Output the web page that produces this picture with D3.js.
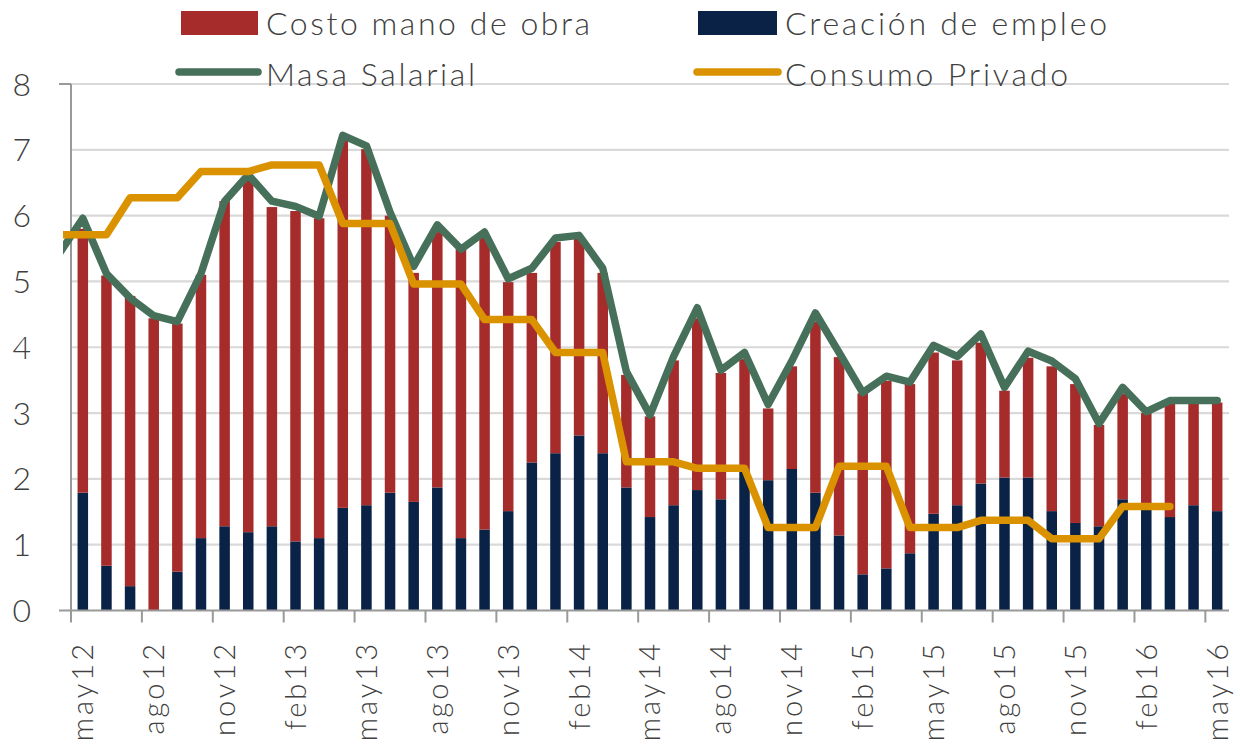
<!DOCTYPE html>
<html>
<head>
<meta charset="utf-8">
<script src="https://cdn.jsdelivr.net/npm/d3@7/dist/d3.min.js"></script>
<style>
  html, body { margin: 0; padding: 0; background: #ffffff; }
  svg { display: block; }
  text { font-family: Lato, "Open Sans", "Liberation Sans", sans-serif; font-weight: 300; fill: #404040; }
</style>
</head>
<body>
<svg id="chart" width="1240" height="746"></svg>
<script>
// ---- data (abr12 is only used for the line segments entering from the left edge) ----
const months = ["abr12",
  "may12","jun12","jul12","ago12","sep12","oct12","nov12","dic12",
  "ene13","feb13","mar13","abr13","may13","jun13","jul13","ago13","sep13","oct13","nov13","dic13",
  "ene14","feb14","mar14","abr14","may14","jun14","jul14","ago14","sep14","oct14","nov14","dic14",
  "ene15","feb15","mar15","abr15","may15","jun15","jul15","ago15","sep15","oct15","nov15","dic15",
  "ene16","feb16","mar16","abr16","may16"];

const tickLabels = ["may12","ago12","nov12","feb13","may13","ago13","nov13","feb14","may14",
  "ago14","nov14","feb15","may15","ago15","nov15","feb16","may16"];

const yTicks = [0,1,2,3,4,5,6,7,8];

const creacionEmpleo = [null,
  1.79,0.68,0.37,0.00,0.59,1.10,1.28,1.19,
  1.28,1.05,1.10,1.56,1.60,1.79,1.65,1.87,1.10,1.23,1.51,2.25,
  2.39,2.66,2.39,1.87,1.42,1.60,1.83,1.69,2.13,1.98,2.15,1.79,
  1.14,0.55,0.64,0.87,1.47,1.60,1.93,2.02,2.02,1.51,1.33,1.28,
  1.69,1.60,1.42,1.60,1.51];

const costoManoObra = [null,
  4.01,4.41,4.41,4.44,3.77,4.00,4.94,5.37,
  4.85,5.02,4.86,5.58,5.41,4.21,3.48,3.88,4.39,4.44,3.48,2.88,
  3.21,2.99,2.74,1.71,1.53,2.20,2.61,1.92,1.69,1.09,1.56,2.60,
  2.71,2.75,2.85,2.57,2.45,2.20,2.14,1.32,1.82,2.20,2.11,1.54,
  1.60,1.40,1.74,1.56,1.65];

const masaSalarial = [5.42,
  5.96,5.12,4.75,4.48,4.39,5.12,6.22,6.62,
  6.22,6.14,5.99,7.22,7.06,6.05,5.23,5.86,5.49,5.75,5.04,5.20,
  5.66,5.70,5.20,3.63,2.97,3.86,4.60,3.65,3.92,3.13,3.79,4.52,
  3.92,3.31,3.56,3.47,4.03,3.86,4.20,3.39,3.94,3.79,3.52,2.84,
  3.39,3.02,3.19,3.19,3.19];

const consumoPrivado = [5.71,
  5.71,5.71,6.27,6.27,6.27,6.67,6.67,6.67,
  6.77,6.77,6.77,5.88,5.88,5.88,4.96,4.96,4.96,4.42,4.42,4.42,
  3.92,3.92,3.92,2.26,2.26,2.26,2.16,2.16,2.16,1.26,1.26,1.26,
  2.19,2.19,2.19,1.26,1.26,1.26,1.37,1.37,1.37,1.09,1.09,1.09,
  1.58,1.58,1.58,null,null];

const seriesNames = ["Costo mano de obra","Creación de empleo","Masa Salarial","Consumo Privado"];
const colors = { red: "#A62B2B", navy: "#0B2247", green: "#46705A", orange: "#DA9200", grid: "#D9D9D9", axis: "#999999" };

// ---- scales ----
const plotLeft = 71, plotRight = 1229, plotTop = 84, plotBottom = 610.5;
const step0 = (plotRight - plotLeft) / (months.length - 1);
const x = d3.scaleBand().domain(months)
  .range([plotLeft - step0, plotRight])
  .paddingInner(0.555).paddingOuter(0.2775);
const y = d3.scaleLinear().domain([0, 8]).range([plotBottom, plotTop]);
const cx = m => x(m) + x.bandwidth() / 2;
const boundary = m => cx(m) - x.step() / 2;

const svg = d3.select("#chart");

// clip for lines (they enter from just left of the axis)
svg.append("defs").append("clipPath").attr("id", "clip")
  .append("rect").attr("x", 63).attr("y", 0).attr("width", 1240 - 63).attr("height", 746);
svg.append("defs").append("clipPath").attr("id", "clipBars")
  .append("rect").attr("x", plotLeft).attr("y", 0).attr("width", plotRight - plotLeft).attr("height", 746);

// gridlines
svg.append("g").selectAll("line").data(yTicks.filter(t => t > 0)).join("line")
  .attr("x1", plotLeft).attr("x2", plotRight)
  .attr("y1", d => y(d)).attr("y2", d => y(d))
  .attr("stroke", colors.grid).attr("stroke-width", 2.2);

// bars
const rows = months.map((m, i) => ({ m, blue: creacionEmpleo[i], red: costoManoObra[i] }))
  .filter(d => d.blue != null);
const barG = svg.append("g").attr("clip-path", "url(#clipBars)");
barG.selectAll("rect.blue").data(rows).join("rect").attr("class", "blue")
  .attr("x", d => x(d.m)).attr("width", x.bandwidth())
  .attr("y", d => y(d.blue)).attr("height", d => y(0) - y(d.blue))
  .attr("fill", colors.navy);
barG.selectAll("rect.red").data(rows).join("rect").attr("class", "red")
  .attr("x", d => x(d.m)).attr("width", x.bandwidth())
  .attr("y", d => y(d.blue + d.red)).attr("height", d => y(d.blue) - y(d.blue + d.red))
  .attr("fill", colors.red);

// axes
const axisG = svg.append("g");
axisG.append("line").attr("x1", plotLeft).attr("x2", plotLeft).attr("y1", y(8)).attr("y2", y(0))
  .attr("stroke", colors.axis).attr("stroke-width", 2);
axisG.append("line").attr("x1", plotLeft - 12).attr("x2", plotRight).attr("y1", y(0)).attr("y2", y(0))
  .attr("stroke", colors.axis).attr("stroke-width", 2.2);
axisG.append("line").attr("x1", plotLeft - 12).attr("x2", plotLeft).attr("y1", y(8)).attr("y2", y(8))
  .attr("stroke", colors.axis).attr("stroke-width", 2);
// y labels
axisG.selectAll("text.yl").data(yTicks).join("text").attr("class", "yl")
  .attr("x", 31).attr("y", d => y(d)).attr("dy", "0.36em")
  .attr("text-anchor", "end").attr("font-size", 32).text(d => d);
// x ticks at category boundaries
axisG.selectAll("line.xt").data(tickLabels).join("line").attr("class", "xt")
  .attr("x1", d => boundary(d)).attr("x2", d => boundary(d))
  .attr("y1", y(0)).attr("y2", y(0) + 12)
  .attr("stroke", colors.axis).attr("stroke-width", 2);
// x labels (rotated)
axisG.selectAll("text.xl").data(tickLabels).join("text").attr("class", "xl")
  .attr("transform", d => `translate(${cx(d)},641) rotate(-90)`)
  .attr("dy", "0.36em").attr("text-anchor", "end")
  .attr("font-size", 29).attr("letter-spacing", "3px").text(d => d);

// lines
const lineGen = d3.line().defined(d => d.v != null).x(d => cx(d.m)).y(d => y(d.v));
const linesG = svg.append("g").attr("clip-path", "url(#clip)");
linesG.append("path").datum(months.map((m, i) => ({ m, v: masaSalarial[i] })))
  .attr("d", lineGen).attr("fill", "none").attr("stroke", colors.green)
  .attr("stroke-width", 7.5).attr("stroke-linejoin", "round").attr("stroke-linecap", "round");
linesG.append("path").datum(months.map((m, i) => ({ m, v: consumoPrivado[i] })))
  .attr("d", lineGen).attr("fill", "none").attr("stroke", colors.orange)
  .attr("stroke-width", 7.5).attr("stroke-linejoin", "round").attr("stroke-linecap", "round");

// legend
const leg = svg.append("g");
const legendItems = [
  { name: seriesNames[0], type: "rect", color: colors.red,    sx: 181, sw: 77, tx: 266, tw: 324, row: 0 },
  { name: seriesNames[1], type: "rect", color: colors.navy,   sx: 698, sw: 79, tx: 785, tw: 322, row: 0 },
  { name: seriesNames[2], type: "line", color: colors.green,  sx: 179, sw: 79, tx: 266, tw: 209, row: 1 },
  { name: seriesNames[3], type: "line", color: colors.orange, sx: 697, sw: 81, tx: 785, tw: 283, row: 1 }
];
legendItems.forEach(it => {
  const cy = it.row === 0 ? 23 : 72;
  if (it.type === "rect") {
    leg.append("rect").attr("x", it.sx).attr("y", cy - 12).attr("width", it.sw).attr("height", 24).attr("fill", it.color);
  } else {
    leg.append("line").attr("x1", it.sx).attr("x2", it.sx + it.sw).attr("y1", cy).attr("y2", cy)
      .attr("stroke", it.color).attr("stroke-width", 7.5).attr("stroke-linecap", "round");
  }
  leg.append("text").attr("x", it.tx).attr("y", it.row === 0 ? 35 : 86)
    .attr("font-size", 32).attr("textLength", it.tw).attr("lengthAdjust", "spacing").text(it.name);
});
</script>
</body>
</html>
